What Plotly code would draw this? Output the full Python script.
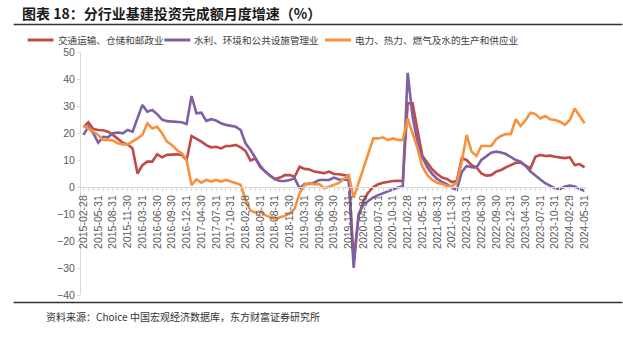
import plotly.graph_objects as go

# Month-end reporting dates (January is merged into February in the statistics)
months = [
    "2015-02-28", "2015-03-31", "2015-04-30", "2015-05-31", "2015-06-30", "2015-07-31",
    "2015-08-31", "2015-09-30", "2015-10-31", "2015-11-30", "2015-12-31",
    "2016-02-29", "2016-03-31", "2016-04-30", "2016-05-31", "2016-06-30", "2016-07-31",
    "2016-08-31", "2016-09-30", "2016-10-31", "2016-11-30", "2016-12-31",
    "2017-02-28", "2017-03-31", "2017-04-30", "2017-05-31", "2017-06-30", "2017-07-31",
    "2017-08-31", "2017-09-30", "2017-10-31", "2017-11-30", "2017-12-31",
    "2018-02-28", "2018-03-31", "2018-04-30", "2018-05-31", "2018-06-30", "2018-07-31",
    "2018-08-31", "2018-09-30", "2018-10-31", "2018-11-30", "2018-12-31",
    "2019-02-28", "2019-03-31", "2019-04-30", "2019-05-31", "2019-06-30", "2019-07-31",
    "2019-08-31", "2019-09-30", "2019-10-31", "2019-11-30", "2019-12-31",
    "2020-02-29", "2020-03-31", "2020-04-30", "2020-05-31", "2020-06-30", "2020-07-31",
    "2020-08-31", "2020-09-30", "2020-10-31", "2020-11-30", "2020-12-31",
    "2021-02-28", "2021-03-31", "2021-04-30", "2021-05-31", "2021-06-30", "2021-07-31",
    "2021-08-31", "2021-09-30", "2021-10-31", "2021-11-30", "2021-12-31",
    "2022-02-28", "2022-03-31", "2022-04-30", "2022-05-31", "2022-06-30", "2022-07-31",
    "2022-08-31", "2022-09-30", "2022-10-31", "2022-11-30", "2022-12-31",
    "2023-02-28", "2023-03-31", "2023-04-30", "2023-05-31", "2023-06-30", "2023-07-31",
    "2023-08-31", "2023-09-30", "2023-10-31", "2023-11-30", "2023-12-31",
    "2024-02-29", "2024-03-31", "2024-04-30", "2024-05-31",
]

# 交通运输、仓储和邮政业 (%)
transport = [
    22.1, 24.0, 21.5, 21.1, 21.0, 20.5, 19.3, 17.7, 16.4, 15.8, 14.3,
    5.0, 8.1, 9.4, 9.4, 12.1, 11.0, 11.9, 12.0, 12.1, 11.9, 10.0,
    18.9, 18.0, 16.8, 15.5, 14.7, 14.9, 14.3, 15.2, 15.2, 15.6, 14.7,
    13.3, 9.8, 10.6, 7.3, 5.7, 4.1, 3.0, 3.5, 4.4, 4.4, 3.8,
    7.5, 6.7, 6.5, 5.7, 5.4, 5.1, 5.7, 4.8, 4.7, 4.3, 4.1,
    -27.0, -11.0, -5.0, -2.0, 0.0, 1.0, 1.6, 2.0, 2.2, 2.3, 2.2,
    31.0, 31.0, 21.0, 11.5, 9.0, 6.5, 4.8, 3.5, 3.0, 1.8, 2.2,
    10.6, 10.0, 8.1, 7.3, 5.0, 4.2, 4.4, 5.7, 6.3, 7.3, 8.1,
    9.0, 9.0, 8.1, 6.9, 11.2, 11.9, 11.5, 11.6, 11.2, 11.0, 10.7,
    11.0, 8.1, 8.5, 7.3,
]

# 水利、环境和公共设施管理业 (%)
water = [
    19.3, 22.3, 19.9, 16.4, 18.6, 18.4, 19.9, 20.2, 19.9, 21.1, 20.5,
    25.4, 30.4, 27.9, 28.5, 27.0, 25.0, 24.4, 24.2, 24.2, 24.0, 23.3,
    33.7, 27.3, 27.5, 24.5, 25.1, 24.6, 23.6, 23.0, 22.6, 22.3, 21.1,
    16.2, 13.7, 10.6, 7.8, 5.7, 4.2, 2.8, 2.2, 2.2, 2.6, 3.2,
    -0.5, 1.1, 1.1, 1.7, 2.6, 2.6, 2.6, 3.5, 2.8, 2.7, 2.6,
    -30.0, -10.0, -6.5, -5.0, -3.8, -3.0, -2.3, -1.5, -0.8, -0.2, 0.3,
    42.3, 26.0, 16.5, 11.0, 7.3, 4.8, 3.0, 1.9, 1.0, -0.3, -1.0,
    5.5, 7.8, 7.3, 7.2, 10.0, 11.5, 12.7, 13.1, 12.8, 12.2, 11.2,
    10.0, 9.4, 7.8, 5.7, 4.4, 2.8, 1.4, 0.3, -0.5, -0.8, 0.2,
    0.5, 0.2, -0.8, -1.4,
]

# 电力、热力、燃气及水的生产和供应业 (%)
utilities = [
    22.7, 21.7, 20.5, 19.3, 17.4, 17.4, 17.2, 16.2, 15.8, 15.8, 16.8,
    18.0, 19.3, 23.6, 21.7, 22.3, 19.9, 16.8, 15.6, 13.7, 12.5, 10.0,
    0.7, 2.8, 1.6, 2.6, 2.0, 2.6, 2.0, 2.6, 2.0, 1.4, 0.8,
    -4.8, -8.8, -9.4, -9.1, -10.4, -11.2, -11.9, -11.2, -10.7, -9.8, -7.9,
    -2.3, 0.7, 1.4, 1.0, 1.1, -0.5, 0.1, 0.7, 1.5, 3.0, 4.4,
    -4.0, 1.5, 7.5, 13.0, 18.0, 18.0, 18.4, 17.4, 18.0, 17.4, 17.4,
    25.4, 19.9, 14.3, 7.5, 4.4, 2.6, 1.6, 1.1, 0.4, 0.3, 1.5,
    9.4, 19.3, 13.1, 11.5, 15.2, 15.2, 15.2, 17.7, 18.9, 19.6, 19.6,
    25.1, 22.6, 24.8, 27.5, 27.0, 25.4, 26.3, 25.1, 24.8, 24.2, 23.0,
    24.8, 29.1, 26.3, 23.6,
]

series_names = ["交通运输、仓储和邮政业", "水利、环境和公共设施管理业", "电力、热力、燃气及水的生产和供应业"]
series_values = [transport, water, utilities]
series_colors = ["#BF4A47", "#7D60A6", "#F7913D"]

y_ticks = [50, 40, 30, 20, 10, 0, -10, -20, -30, -40]
y_min, y_max = -40, 50
label_step = 3

x_idx = list(range(len(months)))

fig = go.Figure()
for name, vals, col in zip(series_names, series_values, series_colors):
    fig.add_trace(go.Scatter(
        x=x_idx, y=vals, name=name, mode="lines",
        line=dict(color=col, width=2.6),
        showlegend=False,
    ))

W, H = 623, 339
ml, mr, mt, mb = 80.5, 35.5, 52, 44
pw, ph = W - ml - mr, H - mt - mb


def px_x(px):
    return (px - ml) / pw


def px_y(py):
    return (H - mb - py) / ph


zero_pos = (0 - y_min) / (y_max - y_min)

fig.update_layout(
    width=W, height=H,
    margin=dict(l=ml, r=mr, t=mt, b=mb, pad=0),
    paper_bgcolor="white", plot_bgcolor="white",
    font=dict(family="Liberation Sans, Arial, sans-serif", color="#595959"),
    xaxis=dict(
        range=[-0.5, len(months) - 0.5],
        tickmode="array",
        tickvals=x_idx[::label_step],
        ticktext=months[::label_step],
        tickangle=-90,
        tickfont=dict(size=10.5, color="#595959"),
        showgrid=False, zeroline=False,
        showline=True, linecolor="#D9D9D9", linewidth=1,
        ticks="outside", ticklen=3, tickcolor="#D9D9D9",
        minor=dict(dtick=1, tick0=0, ticks="outside", ticklen=3, tickcolor="#D9D9D9", showgrid=False),
        anchor="free", position=zero_pos,
    ),
    yaxis=dict(
        range=[y_min, y_max],
        tickvals=y_ticks,
        tickfont=dict(size=10.5, color="#595959"),
        showgrid=False, zeroline=False,
        showline=True, linecolor="#D9D9D9", linewidth=1,
        ticks="outside", ticklen=3, tickcolor="#D9D9D9",
    ),
    title=dict(
        text="<b>图表 18：分行业基建投资完成额月度增速（%）</b>",
        font=dict(family="Noto Sans CJK SC", size=14, color="#1a1a1a"),
        x=22 / W, xanchor="left", xref="container",
        y=1 - 14 / H, yanchor="middle", yref="container",
    ),
)

# Header and footer rules
fig.add_shape(type="line", xref="paper", yref="paper",
              x0=px_x(13), x1=px_x(623), y0=px_y(24.5), y1=px_y(24.5),
              line=dict(color="#333333", width=1.5))
fig.add_shape(type="line", xref="paper", yref="paper",
              x0=px_x(13), x1=px_x(623), y0=px_y(302.5), y1=px_y(302.5),
              line=dict(color="#333333", width=1.5))

# Legend row
legend_x = [27, 164, 325]
legend_y = 40
for lx, name, col in zip(legend_x, series_names, series_colors):
    fig.add_shape(type="line", xref="paper", yref="paper",
                  x0=px_x(lx), x1=px_x(lx + 26), y0=px_y(legend_y), y1=px_y(legend_y),
                  line=dict(color=col, width=3))
    fig.add_annotation(text=name, xref="paper", yref="paper",
                       x=px_x(lx + 29), y=px_y(legend_y), xanchor="left", yanchor="middle",
                       showarrow=False, borderpad=0,
                       font=dict(family="Noto Sans CJK SC", size=9.6, color="#404040"))

# Source note
fig.add_annotation(text="资料来源：Choice 中国宏观经济数据库，东方财富证券研究所",
                   xref="paper", yref="paper", x=px_x(43), y=px_y(316),
                   xanchor="left", yanchor="middle", showarrow=False,
                   font=dict(family="Noto Sans CJK SC", size=10, color="#333333"))

fig.write_html("out.html")
